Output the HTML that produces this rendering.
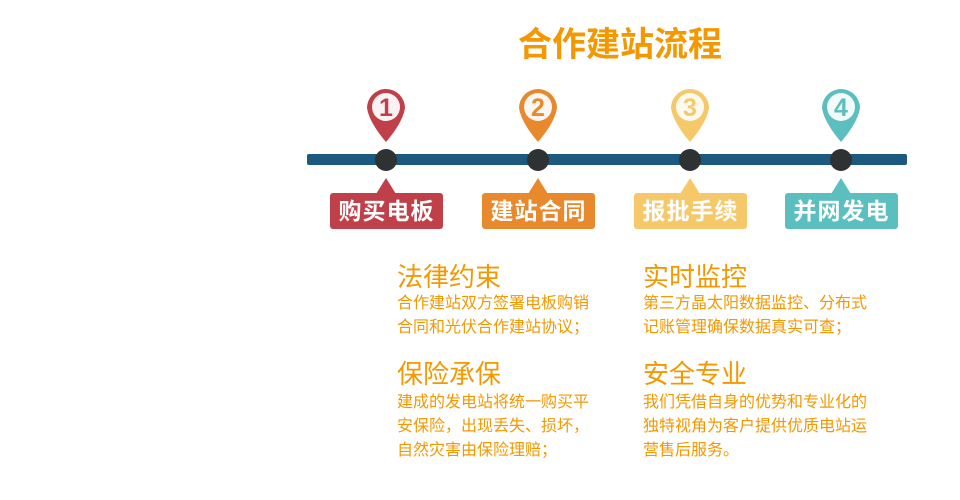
<!DOCTYPE html>
<html><head><meta charset="utf-8"><style>
body{margin:0;width:960px;height:500px;background:#fff;position:relative;overflow:hidden;font-family:"Liberation Sans","Noto Sans CJK SC",sans-serif}
.a{position:absolute}
.t{color:#f39800;font-size:26px;line-height:30px;white-space:nowrap}
.b{color:#f39800;font-size:16px;line-height:24px;white-space:nowrap}
.lab{position:absolute;top:193px;width:113px;height:36px;border-radius:3px;color:#fff;font-weight:bold;font-size:23px;line-height:36px;text-align:center;letter-spacing:1px}
</style></head><body>
<div class="a" style="left:0;width:1240px;top:22px;text-align:center;font-size:34px;font-weight:bold;color:#f39800;line-height:46px">合作建站流程</div>
<svg class="a" style="left:0;top:0" width="960" height="500">
<rect x="307" y="154" width="600" height="11" rx="2" fill="#1b5a7e"/>
<g font-family="Liberation Sans,sans-serif" font-weight="bold" font-size="25" text-anchor="middle">
<g><path d="M367,108 A19,19 0 1 1 405,108 Q403,122 386,142 Q369,122 367,108Z" fill="#c0404a"/><circle cx="386" cy="107" r="14" fill="#fbf3f3"/><text x="386" y="116" fill="#c0404a">1</text></g>
<g><path d="M519,108 A19,19 0 1 1 557,108 Q555,122 538,142 Q521,122 519,108Z" fill="#e8892e"/><circle cx="538" cy="107" r="14" fill="#fbf6f1"/><text x="538" y="116" fill="#e8892e">2</text></g>
<g><path d="M671,108 A19,19 0 1 1 709,108 Q707,122 690,142 Q673,122 671,108Z" fill="#f5c96a"/><circle cx="690" cy="107" r="14" fill="#fdf9ef"/><text x="690" y="116" fill="#f5c96a">3</text></g>
<g><path d="M822,108 A19,19 0 1 1 860,108 Q858,122 841,142 Q824,122 822,108Z" fill="#5bbfbf"/><circle cx="841" cy="107" r="14" fill="#f2fafa"/><text x="841" y="116" fill="#5bbfbf">4</text></g>
</g>
<circle cx="386" cy="160" r="11" fill="#2f3233"/><circle cx="538" cy="160" r="11" fill="#2f3233"/><circle cx="690" cy="160" r="11" fill="#2f3233"/><circle cx="841" cy="160" r="11" fill="#2f3233"/>
<polygon points="386,178 376,194 396,194" fill="#c0404a"/>
<polygon points="538,178 528,194 548,194" fill="#e8892e"/>
<polygon points="690,178 680,194 700,194" fill="#f5c96a"/>
<polygon points="841,178 831,194 851,194" fill="#5bbfbf"/>
</svg>
<div class="lab" style="left:330px;background:#c0404a">购买电板</div>
<div class="lab" style="left:482px;background:#e8892e">建站合同</div>
<div class="lab" style="left:634px;background:#f5c96a">报批手续</div>
<div class="lab" style="left:785px;background:#5bbfbf">并网发电</div>
<div class="a t" style="left:397px;top:262px">法律约束</div>
<div class="a b" style="left:397px;top:292px">合作建站双方签署电板购销<br>合同和光伏合作建站协议；</div>
<div class="a t" style="left:643px;top:262px">实时监控</div>
<div class="a b" style="left:643px;top:292px">第三方晶太阳数据监控、分布式<br>记账管理确保数据真实可查；</div>
<div class="a t" style="left:397px;top:359px">保险承保</div>
<div class="a b" style="left:397px;top:391px">建成的发电站将统一购买平<br>安保险，出现丢失、损坏，<br>自然灾害由保险理赔；</div>
<div class="a t" style="left:643px;top:359px">安全专业</div>
<div class="a b" style="left:643px;top:391px">我们凭借自身的优势和专业化的<br>独特视角为客户提供优质电站运<br>营售后服务。</div>
</body></html>
